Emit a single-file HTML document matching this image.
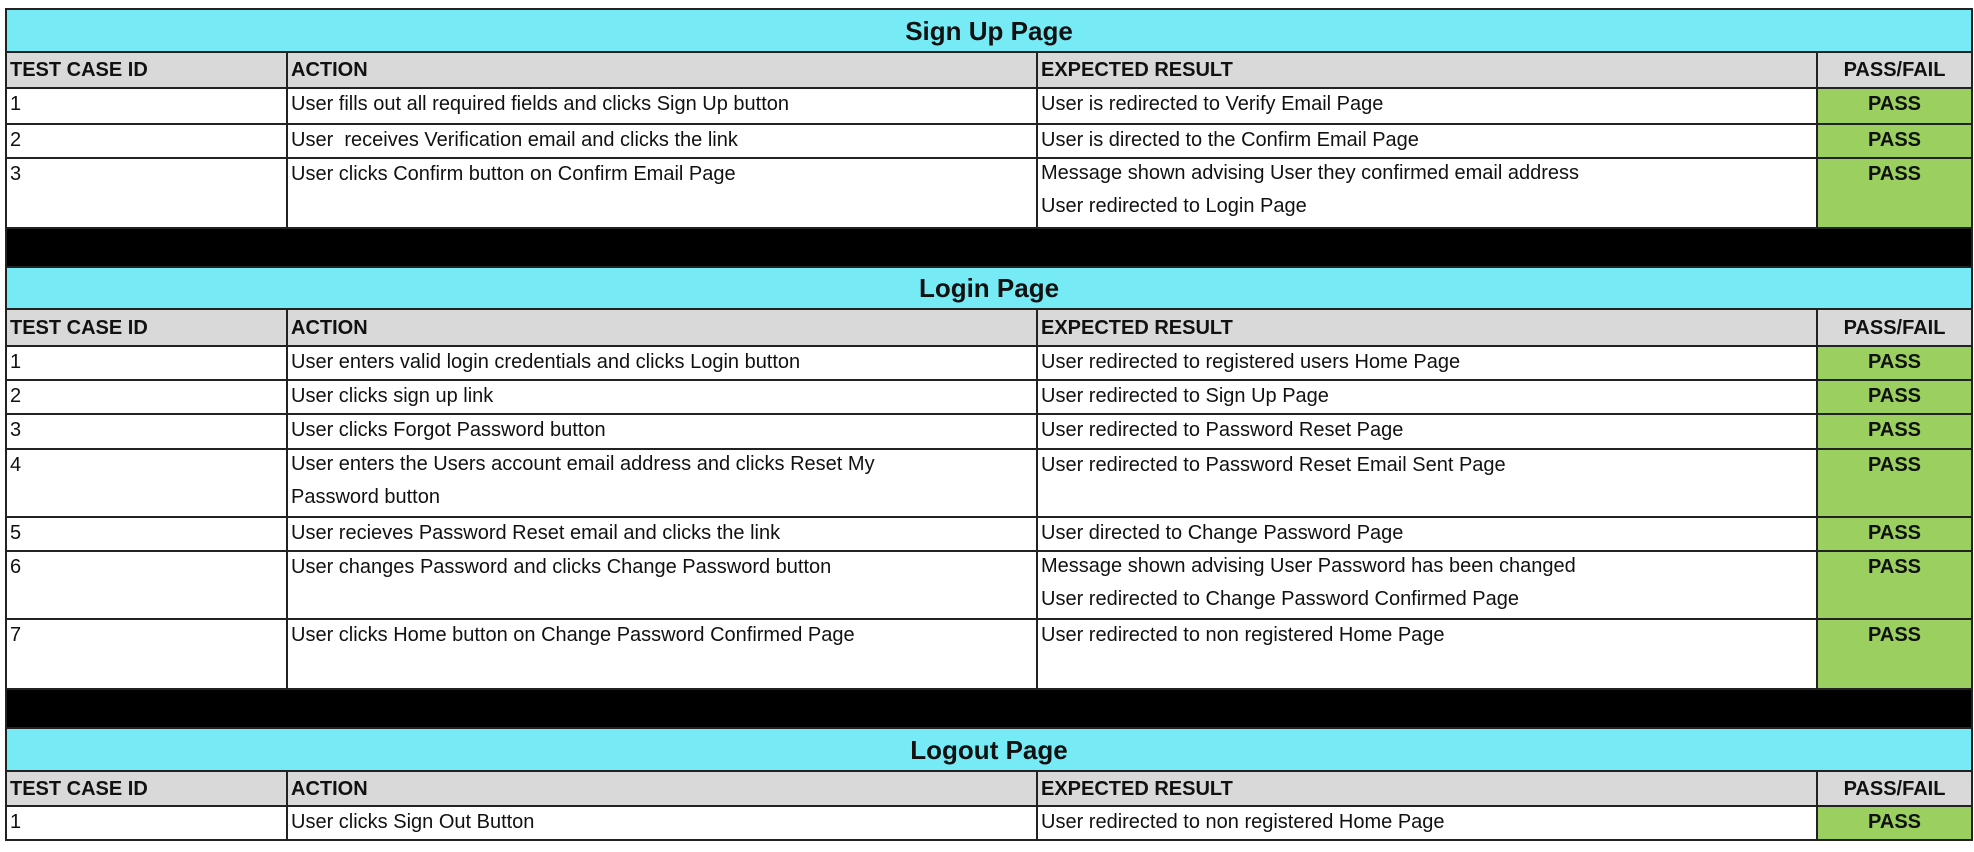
<!DOCTYPE html>
<html><head><meta charset="utf-8"><style>
html,body{margin:0;padding:0;background:#fff;width:1974px;height:852px;overflow:hidden}
table{position:absolute;left:5px;top:8px;width:1966px;border-collapse:collapse;table-layout:fixed;font-family:"Liberation Sans",sans-serif;font-size:20px;color:#111}
td{border:2px solid #222;padding:0 3px;vertical-align:top;line-height:30px;white-space:nowrap;overflow:hidden}
td div{line-height:33px;margin-top:-2px}
.t{background:#76ebf5;text-align:center;font-weight:bold;font-size:26px;vertical-align:middle;line-height:36px}
.h td{background:#d9d9d9;font-weight:bold;vertical-align:middle}
.h td:last-child{text-align:center}
.p{background:#9bcf5f;text-align:center;font-weight:bold}
.b{background:#000}
</style></head><body>
<table>
<colgroup><col style="width:281px"><col style="width:750px"><col style="width:780px"><col style="width:155px"></colgroup>
<tr style="height:43px"><td class="t" colspan="4">Sign Up Page</td></tr>
<tr class="h" style="height:36px"><td>TEST CASE ID</td><td>ACTION</td><td>EXPECTED RESULT</td><td>PASS/FAIL</td></tr>
<tr style="height:36px"><td>1</td><td>User fills out all required fields and clicks Sign Up button</td><td>User is redirected to Verify Email Page</td><td class="p">PASS</td></tr>
<tr style="height:34px"><td>2</td><td>User&nbsp; receives Verification email and clicks the link</td><td>User is directed to the Confirm Email Page</td><td class="p">PASS</td></tr>
<tr style="height:70px"><td>3</td><td>User clicks Confirm button on Confirm Email Page</td><td><div>Message shown advising User they confirmed email address<br>User redirected to Login Page</div></td><td class="p">PASS</td></tr>
<tr style="height:39px"><td class="b" colspan="4"></td></tr>
<tr style="height:42px"><td class="t" colspan="4">Login Page</td></tr>
<tr class="h" style="height:37px"><td>TEST CASE ID</td><td>ACTION</td><td>EXPECTED RESULT</td><td>PASS/FAIL</td></tr>
<tr style="height:34px"><td>1</td><td>User enters valid login credentials and clicks Login button</td><td>User redirected to registered users Home Page</td><td class="p">PASS</td></tr>
<tr style="height:34px"><td>2</td><td>User clicks sign up link</td><td>User redirected to Sign Up Page</td><td class="p">PASS</td></tr>
<tr style="height:35px"><td>3</td><td>User clicks Forgot Password button</td><td>User redirected to Password Reset Page</td><td class="p">PASS</td></tr>
<tr style="height:68px"><td>4</td><td><div>User enters the Users account email address and clicks Reset My<br>Password button</div></td><td>User redirected to Password Reset Email Sent Page</td><td class="p">PASS</td></tr>
<tr style="height:34px"><td>5</td><td>User recieves Password Reset email and clicks the link</td><td>User directed to Change Password Page</td><td class="p">PASS</td></tr>
<tr style="height:68px"><td>6</td><td>User changes Password and clicks Change Password button</td><td><div>Message shown advising User Password has been changed<br>User redirected to Change Password Confirmed Page</div></td><td class="p">PASS</td></tr>
<tr style="height:70px"><td>7</td><td>User clicks Home button on Change Password Confirmed Page</td><td>User redirected to non registered Home Page</td><td class="p">PASS</td></tr>
<tr style="height:39px"><td class="b" colspan="4"></td></tr>
<tr style="height:43px"><td class="t" colspan="4">Logout Page</td></tr>
<tr class="h" style="height:35px"><td>TEST CASE ID</td><td>ACTION</td><td>EXPECTED RESULT</td><td>PASS/FAIL</td></tr>
<tr style="height:34px"><td>1</td><td>User clicks Sign Out Button</td><td>User redirected to non registered Home Page</td><td class="p">PASS</td></tr>
</table>
</body></html>
